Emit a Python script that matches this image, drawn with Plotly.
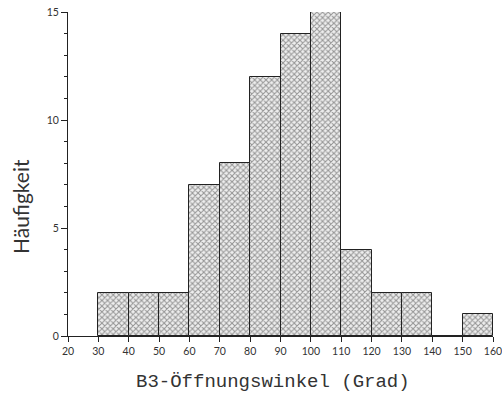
import plotly.graph_objects as go

bin_starts = [30, 40, 50, 60, 70, 80, 90, 100, 110, 120, 130, 140, 150]
counts = [2, 2, 2, 7, 8, 12, 14, 15, 4, 2, 2, 0, 1]
x_ticks = list(range(20, 161, 10))
y_ticks = [0, 5, 10, 15]
x_title = "B3-Öffnungswinkel (Grad)"
y_title = "Häufigkeit"

centers = [b + 5 for b in bin_starts]

fig = go.Figure()
fig.add_trace(go.Bar(
    x=centers, y=counts, width=[10] * len(centers),
    marker=dict(color="white", line=dict(color="#222", width=1),
                pattern=dict(shape="x", fgcolor="#3a3a3a", bgcolor="#eeeeee", size=4, solidity=0.45)),
    showlegend=False,
))

font = "Lato, Liberation Sans, sans-serif"
L, R, T, B = 68, 9, 12, 65
W, H = 502, 401
pw, ph = W - L - R, H - T - B

fig.update_layout(
    width=W, height=H,
    margin=dict(l=L, r=R, t=T, b=B, autoexpand=False),
    plot_bgcolor="white", paper_bgcolor="white",
    font=dict(family=font, color="#333"),
    bargap=0,
    xaxis=dict(range=[20, 160], tickvals=x_ticks, showgrid=False, zeroline=False,
               showline=True, linecolor="#222", linewidth=1, automargin=False,
               ticks="outside", ticklen=5, tickcolor="#222", ticklabeloverflow="allow",
               tickfont=dict(family=font, size=10.5, color="#333")),
    yaxis=dict(range=[0, 15], tickvals=y_ticks, showgrid=False, zeroline=False,
               showline=True, linecolor="#222", linewidth=1, automargin=False,
               ticks="outside", ticklen=6, tickcolor="#222",
               minor=dict(dtick=1, ticks="outside", ticklen=3, tickcolor="#222", showgrid=False),
               tickfont=dict(family=font, size=10.5, color="#333")),
    annotations=[
        dict(text=x_title, xref="paper", yref="paper",
             x=(273 - L) / pw, y=(H - B - 382) / ph, xanchor="center", yanchor="middle",
             showarrow=False, font=dict(family="Liberation Mono, DejaVu Sans Mono, monospace", size=19, color="#333")),
        dict(text=y_title, xref="paper", yref="paper", textangle=-90,
             x=(20 - L) / pw, y=(H - B - 207) / ph, xanchor="center", yanchor="middle",
             showarrow=False, font=dict(family=font, size=21, color="#333")),
    ],
)

fig.write_html("out.html")
